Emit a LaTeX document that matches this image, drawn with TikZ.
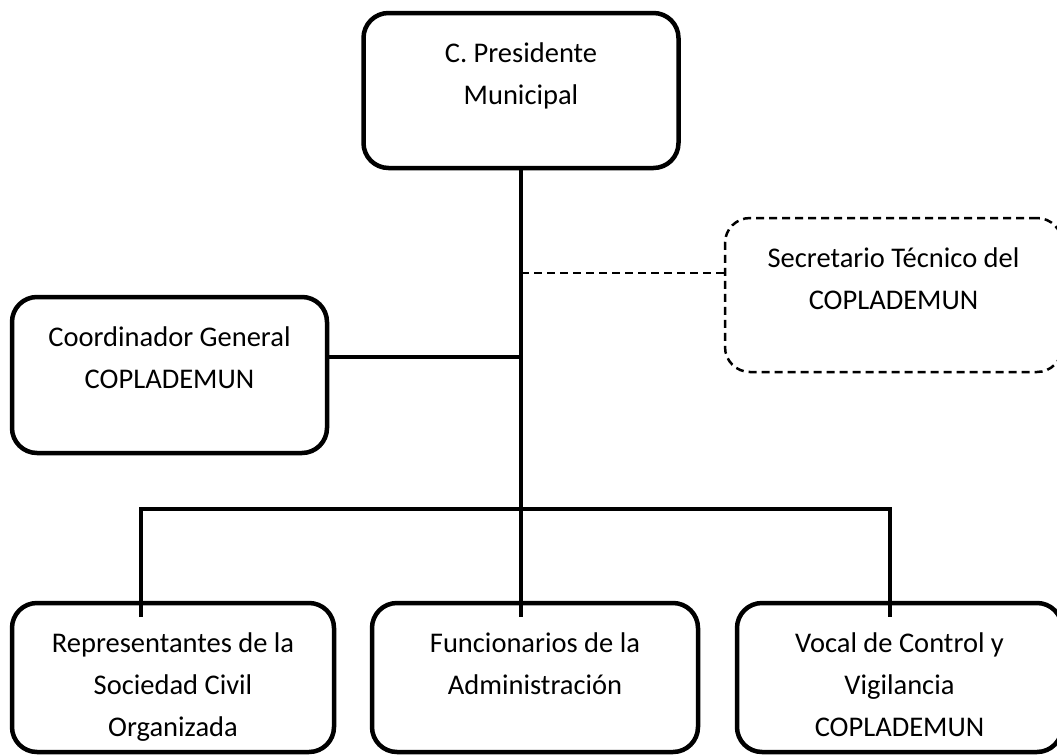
\documentclass[tikz,border=0pt]{standalone}
\usepackage{fontspec}
\setmainfont{Carlito}
\newcommand{\boxtext}[3]{\parbox[c][#2][t]{#1}{\centering\rule{0pt}{49pt}#3}}
\begin{document}
\begin{tikzpicture}[x=1pt,y=-1pt,
  every node/.style={font=\fontsize{28.5}{42}\selectfont},
  orgbox/.style={draw, line width=4.5pt, rounded corners=25pt, inner sep=0pt},
  dashbox/.style={draw, line width=2.5pt, dash pattern=on 8pt off 5pt, rounded corners=25pt, inner sep=0pt},
  conn/.style={line width=4.5pt, line join=miter},
  dconn/.style={line width=2.5pt, dash pattern=on 8pt off 5pt}]
\useasboundingbox (0,0) rectangle (1057,755);
\fill[white] (0,0) rectangle (1057,755);
\node[orgbox] (pres) at (521,90.5) {\boxtext{315pt}{155pt}{C. Presidente\\Municipal}};
\node[orgbox] (coord) at (169.5,375) {\boxtext{315pt}{156pt}{Coordinador General\\COPLADEMUN}};
\node[dashbox] (sec) at (893.5,295) {\boxtext{337pt}{154pt}{Secretario Técnico del\\COPLADEMUN}};
\node[orgbox] (rep) at (173,677.5) {\boxtext{322pt}{149pt}{Representantes de la\\Sociedad Civil\\Organizada}};
\node[orgbox] (fun) at (535,677.5) {\boxtext{326pt}{149pt}{Funcionarios de la\\Administración}};
\node[orgbox] (voc) at (899.5,677.5) {\boxtext{325pt}{149pt}{Vocal de Control y\\Vigilancia\\COPLADEMUN}};
\coordinate (tb) at (521,617);
\coordinate (cj) at (521,357);
\coordinate (sj) at (521,273);
\coordinate (bl) at (141,509);
\coordinate (br) at (890,509);
\draw[conn] (pres.south) -- (tb);
\draw[conn] (cj) -- (cj -| coord.east);
\draw[dconn] (sj) -- (sj -| sec.west);
\draw[conn] (bl |- tb) -- (bl) -- (br) -- (br |- tb);
\end{tikzpicture}
\end{document}
